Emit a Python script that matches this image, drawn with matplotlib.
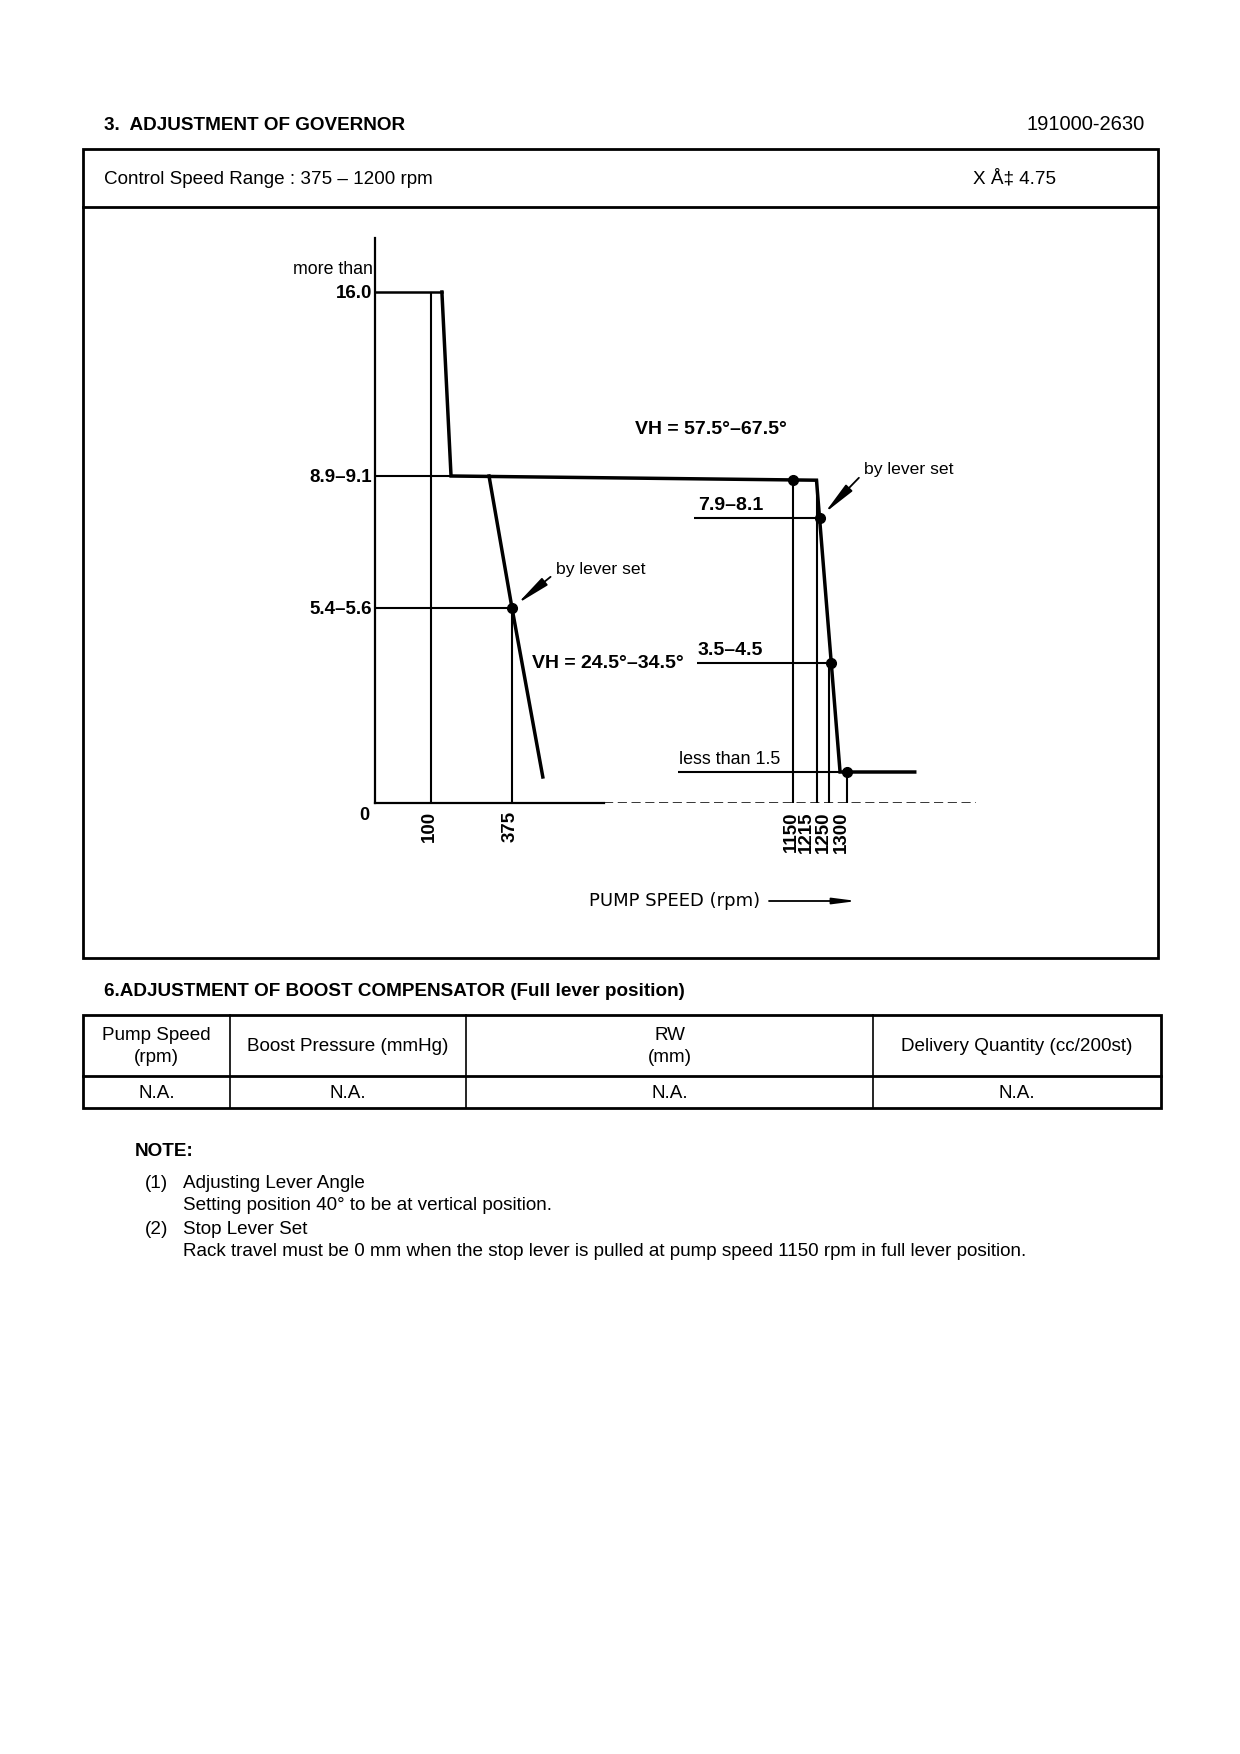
import numpy as np
import matplotlib
matplotlib.use("Agg")
import matplotlib.pyplot as plt
from matplotlib.patches import Rectangle

plt.rcParams['font.family'] = ['Liberation Sans', 'DejaVu Sans']

# governor curve data (pump speed rpm, rack position mm)
gov_rpm = [137, 168, 1215, 1280, 1486]
gov_mm = [16.0, 9.0, 8.9, 1.5, 1.5]
start_rpm = [0, 137]
start_mm = [16.0, 16.0]
idle_rpm = [297, 375, 460]
idle_mm = [9.0, 5.5, 1.26]
dot_rpm = [375, 1150, 1224, 1255, 1300]
dot_mm = [5.5, 8.91, 8.0, 4.0, 1.5]

# reference lines
vline_rpm = [100, 375, 1150, 1215, 1250, 1300]
vline_top = [16.0, 5.5, 8.91, 8.9, 4.0, 1.5]
hline_mm = [9.0, 5.5, 8.0, 4.0, 1.5]
hline_from = [0, 0, 877, 885, 833]
hline_to = [168, 375, 1224, 1255, 1280]

xtick_vals = [100, 375, 1150, 1215, 1250, 1300]
xtick_nudge = [-1.5, -1, -1, -7, -4.5, -4.5]  # points, labels crowd together
ytick_vals = [16.0, 9.0, 5.5]
ytick_labels = ["16.0", "8.9\u20139.1", "5.4\u20135.6"]

# schematic (non-linear) axes of the original drawing
X_RPM = [-100, 0, 100, 375, 1655, 3000]
X_PX = [-56, 0, 56, 137, 601, 1088]
Y_MM = [-5, 0, 1.5, 4.0, 5.5, 8.0, 9.0, 16.0, 18.0, 30]
Y_PX = [-100, 0, 31, 140, 195, 285, 327, 511, 565, 900]


def fx(v):
    return np.interp(v, X_RPM, X_PX)


def fx_inv(p):
    return np.interp(p, X_PX, X_RPM)


def fy(v):
    return np.interp(v, Y_MM, Y_PX)


def fy_inv(p):
    return np.interp(p, Y_PX, Y_MM)


W, H = 1240, 1754
fig = plt.figure(figsize=(W / 100, H / 100), dpi=100)
fig.patch.set_facecolor("white")

page = fig.add_axes([0, 0, 1, 1])
page.set_xlim(0, W)
page.set_ylim(H, 0)
page.axis("off")

body = 13.6

# header
page.text(104, 125, "3.  ADJUSTMENT OF GOVERNOR", fontsize=body, fontweight="bold", va="center")
page.text(1145, 125, "191000-2630", fontsize=14.5, ha="right", va="center")

# chart box
page.add_patch(Rectangle((83, 149), 1158 - 83, 958 - 149, fill=False, lw=2.0, ec="black"))
page.plot([83, 1158], [207, 207], color="black", lw=2.0)
page.text(104, 179, "Control Speed Range : 375 \u2013 1200 rpm", fontsize=body, va="center")
page.text(973, 179, "X \u00c5\u2021 4.75", fontsize=body, va="center")

# pump speed label with arrow
page.text(589, 901, "PUMP SPEED (rpm)", fontsize=13, family="DejaVu Sans", va="center")
page.annotate("", xy=(857, 901), xytext=(769, 901),
              arrowprops=dict(arrowstyle="-|>,head_length=1.4,head_width=0.18",
                              lw=1.3, color="black", shrinkA=0, shrinkB=0))

# boost compensator table
page.text(104, 992, "6.ADJUSTMENT OF BOOST COMPENSATOR (Full lever position)",
          fontsize=body, fontweight="bold", va="center")
tl, tr, tt, tm, tb = 83, 1161, 1015, 1076, 1108
cols = [tl, 230, 466, 873, tr]
page.add_patch(Rectangle((tl, tt), tr - tl, tb - tt, fill=False, lw=2.0, ec="black"))
page.plot([tl, tr], [tm, tm], color="black", lw=2.0)
for c in cols[1:-1]:
    page.plot([c, c], [tt, tb], color="black", lw=1.2)
headers = ["Pump Speed\n(rpm)", "Boost Pressure (mmHg)", "RW\n(mm)", "Delivery Quantity (cc/200st)"]
values = ["N.A.", "N.A.", "N.A.", "N.A."]
for i in range(4):
    cx = (cols[i] + cols[i + 1]) / 2
    page.text(cx, (tt + tm) / 2 + 1, headers[i], fontsize=body, ha="center", va="center",
              linespacing=1.35)
    page.text(cx, (tm + tb) / 2 + 1, values[i], fontsize=body, ha="center", va="center")

# notes
page.text(135, 1152, "NOTE:", fontsize=body, fontweight="bold", va="center")
notes = [
    (145, 1183, "(1)"),
    (183, 1183, "Adjusting Lever Angle"),
    (183, 1206, "Setting position 40\u00b0 to be at vertical position."),
    (145, 1229, "(2)"),
    (183, 1229, "Stop Lever Set"),
    (183, 1251, "Rack travel must be 0 mm when the stop lever is pulled at pump speed 1150 rpm in full lever position."),
]
for x, y, t in notes:
    page.text(x, y, t, fontsize=body, va="center")

# governor chart
ax = fig.add_axes([375 / W, 1 - 803 / H, 601 / W, 565 / H])
ax.set_facecolor("none")
ax.set_xscale("function", functions=(fx, fx_inv))
ax.set_yscale("function", functions=(fy, fy_inv))
ax.set_xlim(0, 1655)
ax.set_ylim(0, 18)
for s in ["top", "right"]:
    ax.spines[s].set_visible(False)
ax.spines["left"].set_linewidth(1.6)
ax.spines["bottom"].set_linewidth(1.6)
ax.spines["bottom"].set_bounds(0, 630)
ax.plot([630, 1655], [0, 0], color="black", lw=1.1, ls=(0, (6, 3)))

thin = 1.5
thick = 2.5
ax.vlines(vline_rpm, 0, vline_top, color="black", lw=thin)
ax.hlines(hline_mm, hline_from, hline_to, color="black", lw=thin)
ax.plot(start_rpm, start_mm, color="black", lw=1.8)
ax.plot(gov_rpm, gov_mm, color="black", lw=thick, solid_joinstyle="miter")
ax.plot(idle_rpm, idle_mm, color="black", lw=thick)
ax.plot(dot_rpm, dot_mm, "o", color="black", ms=7, ls="none")

ax.set_xticks([])
for v, dx in zip(xtick_vals, xtick_nudge):
    ax.annotate(str(v), xy=(v, 0), xytext=(dx, -6), textcoords="offset points",
                rotation=90, ha="center", va="top", fontsize=13.5, fontweight="bold")
ax.set_yticks(ytick_vals)
ax.set_yticklabels(ytick_labels, fontsize=13.5, fontweight="bold")
ax.tick_params(axis="y", length=0, pad=2)
ax.minorticks_off()

ax.annotate("0", xy=(0, 0), xytext=(-8, -9), textcoords="offset points",
            ha="center", va="center", fontsize=13, fontweight="bold")
ax.text(-0.004, 16.84, "more than", transform=ax.get_yaxis_transform(),
        ha="right", va="center", fontsize=12.8)

ax.text(714, 10.75, "VH = 57.5\u00b0\u201367.5\u00b0", fontsize=14, fontweight="bold", va="center")
ax.text(430, 4.0, "VH = 24.5\u00b0\u201334.5\u00b0", fontsize=14, fontweight="bold", va="center")
ax.annotate("7.9\u20138.1", xy=(888, 8.0), xytext=(0, 3), textcoords="offset points",
            va="bottom", fontsize=14, fontweight="bold")
ax.annotate("3.5\u20134.5", xy=(888, 4.0), xytext=(0, 3), textcoords="offset points",
            va="bottom", fontsize=14, fontweight="bold")
ax.annotate("less than 1.5", xy=(836, 1.5), xytext=(0, 3), textcoords="offset points",
            va="bottom", fontsize=12.9)

arrow = dict(arrowstyle="-|>,head_length=1.6,head_width=0.22", lw=1.3, color="black",
             shrinkA=2, shrinkB=5, relpos=(0, 0.3))
ax.annotate("by lever set", xy=(1224, 8.0), xytext=(1345, 9.23), fontsize=12.6,
            va="center", arrowprops=arrow)
ax.annotate("by lever set", xy=(375, 5.5), xytext=(495, 6.56), fontsize=12.6,
            va="center", arrowprops=arrow)

fig.savefig("out.png", dpi=100, facecolor="white")
